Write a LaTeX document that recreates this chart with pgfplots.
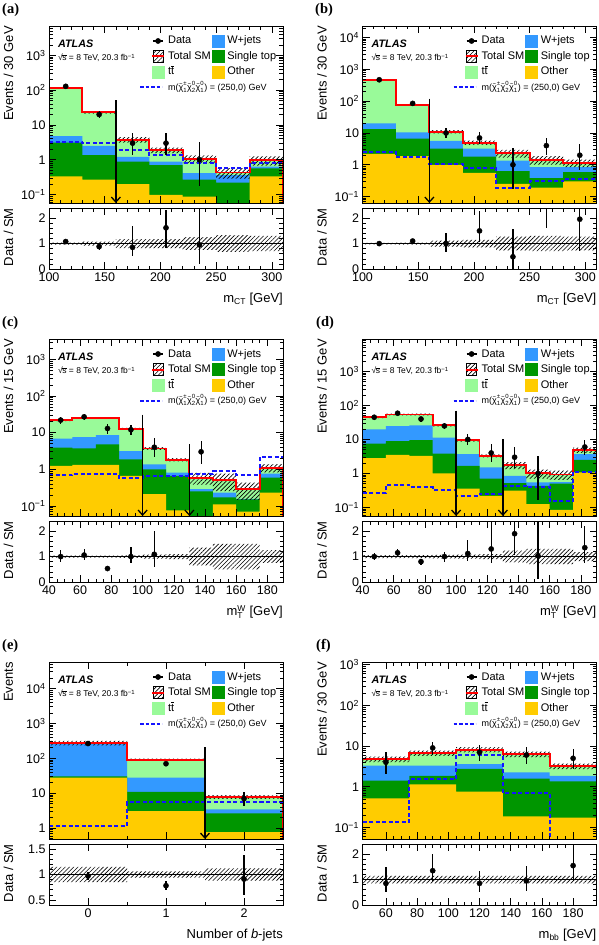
\documentclass[border=0pt]{standalone}
\usepackage{fontspec}
\setmainfont{Liberation Sans}
\newfontfamily\seriffont{Liberation Serif}
\usepackage{pgfplots}
\usepackage{pgfplotstable}
\pgfplotsset{compat=1.18}
\usetikzlibrary{patterns,patterns.meta,arrows.meta}

\definecolor{ttc}{RGB}{153,250,153}
\definecolor{wjc}{RGB}{51,153,255}
\definecolor{stc}{RGB}{0,150,0}
\definecolor{otc}{RGB}{255,204,0}
\definecolor{sgc}{RGB}{20,20,255}

\newcommand{\sx}[1]{\mbox{\fontsize{8.5}{9}\selectfont #1}}
\newcommand{\tx}[1]{\mbox{\fontsize{6}{6}\selectfont #1}}
\newcommand{\chit}{\tilde{\mbox{χ}}}
\newcommand{\sqrts}{√\kern-0.05em\vbox{\hrule height 0.45pt\kern0.6pt\hbox{s}}}
\tikzset{hatch/.style={pattern={Lines[angle=45,distance=3pt,line width=0.65pt]}, pattern color=black}}

% ---------------- data ----------------
\pgfplotstableread{
x oth st wj tot sg
100 1e-4 1e-4 1e-4 1e-4 3.3
100 0.33 3.1 4.8 118 3.3
130 0.27 1.36 2.5 23 2.95
160 0.20 0.88 1.2 3.8 1.9
190 0.098 0.70 0.88 1.9 1.36
220 0.087 0.27 0.41 1.07 0.82
250 1e-4 0.22 0.36 0.43 0.59
280 0.33 0.56 0.63 0.96 0.82
310 0.33 0.56 0.63 0.96 0.82
310 1e-4 1e-4 1e-4 1e-4 0.82
}\hA
\pgfplotstableread{
x y r
100 122.7 1.04
130 24.84 1.08
160 4.484 1.18
190 2.242 1.18
220 1.3375 1.25
250 0.572 1.33
280 1.248 1.30
310 1.248 1.30
310 0.672 0.70
280 0.288 0.67
250 0.8025 0.75
220 1.558 0.82
190 3.116 0.82
160 21.16 0.92
130 113.3 0.96
100 113.3 0.96
}\bA
\pgfplotstableread{
x y ep em
115 129 11.4 11.4
145 20 5.5 4.4
175 3 2.9 1.6
205 3 2.9 1.6
235 1 2.3 0.83
}\dA
\pgfplotstableread{
x r ep em
115 1.08 0.1 0.1
145 0.88 0.15 0.13
175 0.85 0.83 0.32
205 1.62 0.7 0.8
235 0.95 2.0 0.77
}\rA

\pgfplotstableread{
x oth st wj tot sg
100 1e-4 1e-4 1e-4 1e-4 2.6
100 2.2 13.3 20 475 2.6
130 1.87 6.6 10.5 75 1.8
160 1.0 3.2 5.6 11 1.07
190 0.56 1.8 3.2 5.0 0.82
220 0.25 0.63 1.36 2.3 0.19
250 0.19 0.38 0.85 1.45 0.30
280 0.30 0.59 0.85 1.15 0.36
310 0.30 0.59 0.85 1.15 0.36
310 1e-4 1e-4 1e-4 1e-4 0.36
}\hB
\pgfplotstableread{
x y r
100 489.25 1.03
130 78 1.04
160 12.32 1.12
190 5.75 1.15
220 2.921 1.27
250 1.885 1.30
280 1.4605 1.27
310 1.4605 1.27
310 0.8395 0.73
280 1.015 0.70
250 1.679 0.73
220 4.25 0.85
190 9.68 0.88
160 72 0.96
130 460.75 0.97
100 460.75 0.97
}\bB
\pgfplotstableread{
x y ep em
115 470 21.7 21.7
145 85 9.2 9.2
175 10 4.3 3.1
205 7 3.8 2.6
235 1 2.3 0.83
265 4 3.2 1.9
295 2 2.6 1.3
}\dB
\pgfplotstableread{
x r ep em
115 1.0 0.05 0.05
145 1.1 0.1 0.1
175 1.0 0.42 0.32
205 1.5 0.8 0.42
235 0.48 1.08 0.47
265 2.7 1.5 1.1
295 1.96 1.5 1.24
}\rB

\pgfplotstableread{
x oth st wj tot sg
40 1e-4 1e-4 1e-4 1e-4 0.70
40 1.23 3.9 6.9 21.6 0.70
55 1.31 3.7 7.6 25.6 0.73
70 1.31 4.8 8.6 25.6 0.73
85 0.66 1.87 3.15 12.9 0.57
100 0.21 1.0 1.37 3.7 0.66
115 0.076 0.66 0.81 1.84 0.66
130 0.03 0.25 0.285 0.59 0.76
145 0.11 0.17 0.23 0.51 0.9
160 0.07 0.15 0.155 0.29 0.69
175 0.23 0.59 0.76 1.1 2.16
190 0.23 0.59 0.76 1.1 2.16
190 1e-4 1e-4 1e-4 1e-4 2.16
}\hC
\pgfplotstableread{
x y r
40 22.46 1.04
55 26.62 1.04
70 26.62 1.04
85 13.545 1.05
100 3.996 1.08
115 2.024 1.1
130 0.7965 1.35
145 0.765 1.5
160 0.435 1.5
175 1.375 1.25
190 1.375 1.25
190 0.825 0.75
175 0.145 0.5
160 0.255 0.5
145 0.3835 0.65
130 1.656 0.9
115 3.404 0.92
100 12.255 0.95
85 24.58 0.96
70 24.58 0.96
55 20.74 0.96
40 20.74 0.96
}\bC
\pgfplotstableread{
x y ep em
47.5 22 4.7 4.7
62.5 27 5.2 5.2
77.5 13 4.4 3.6
92.5 12 4.3 3.4
107.5 4 3.2 1.9
137.5 3 2.9 1.6
}\dC
\pgfplotstableread{
x r ep em
47.5 1.0 0.25 0.2
62.5 1.06 0.23 0.19
77.5 0.53 0.08 0.08
92.5 1.0 0.37 0.27
107.5 1.09 0.9 0.5
}\rC

\pgfplotstableread{
x oth st wj tot sg
40 1e-4 1e-4 1e-4 1e-4 0.27
40 2.8 7.5 19.7 45 0.27
55 3.5 8.9 24.7 54 0.46
70 3.3 9.6 25.9 54 0.39
85 1.0 3.85 11.3 25.9 0.33
100 0.36 1.67 3.7 9.4 0.22
115 0.22 0.71 1.5 3.3 0.25
130 0.31 0.52 0.85 1.75 0.42
145 0.126 0.43 0.55 1.0 0.39
160 0.085 0.5 0.56 0.93 0.15
175 1.07 2.5 3.7 4.9 1.11
190 1.07 2.5 3.7 4.9 1.11
190 1e-4 1e-4 1e-4 1e-4 1.11
}\hD
\pgfplotstableread{
x y r
40 47.7 1.06
55 57.24 1.06
70 57.24 1.06
85 27.713 1.07
100 10.152 1.08
115 3.63 1.1
130 2.1525 1.23
145 1.3 1.3
160 1.209 1.3
175 5.782 1.18
190 5.782 1.18
190 4.018 0.82
175 0.651 0.7
160 0.7 0.7
145 1.3475 0.77
130 2.97 0.9
115 8.648 0.92
100 24.087 0.93
85 50.76 0.94
70 50.76 0.94
55 42.3 0.94
40 42.3 0.94
}\bD
\pgfplotstableread{
x y ep em
47.5 45 6.7 6.7
62.5 59 7.7 7.7
77.5 40 6.3 6.3
92.5 25 5 5
107.5 10 4.3 3.1
122.5 4 3.2 1.9
137.5 3 2.9 1.6
152.5 1 2.3 0.83
182.5 6 3.6 2.4
}\dD
\pgfplotstableread{
x r ep em
47.5 1.0 0.15 0.15
62.5 1.15 0.15 0.15
77.5 0.8 0.12 0.12
92.5 1.0 0.2 0.2
107.5 1.12 0.55 0.3
122.5 1.3 1.05 0.55
137.5 1.9 1.9 0.85
152.5 1.03 2.4 0.9
182.5 1.35 0.85 0.6
}\rD

\pgfplotstableread{
x oth st wj tot sg
-0.5 1e-4 1e-4 1e-4 1e-4 1.19
-0.5 28 30.5 255 275 1.19
0.5 3.1 11 28 92 5.5
1.5 0.77 2.67 3.46 7.9 5.6
2.5 0.77 2.67 3.46 7.9 5.6
2.5 1e-4 1e-4 1e-4 1e-4 5.6
}\hE
\pgfplotstableread{
x y r
-0.5 316.25 1.15
0.5 97.52 1.06
1.5 8.848 1.12
2.5 8.848 1.12
2.5 6.952 0.88
1.5 86.48 0.94
0.5 233.75 0.85
-0.5 233.75 0.85
}\bE
\pgfplotstableread{
x y ep em
0 265 16.3 16.3
1 70 8.4 8.4
2 7 3.8 2.6
}\dE
\pgfplotstableread{
x r ep em
0 0.97 0.07 0.07
1 0.78 0.1 0.09
2 0.91 0.48 0.31
}\rE

\pgfplotstableread{
x oth st wj tot sg
45 1e-4 1e-4 1e-4 1e-4 0.137
45 0.52 1.41 3.3 4.75 0.137
75 1.15 1.86 3.3 6.7 1.55
105 0.76 2.74 3.6 8.2 5.9
135 0.187 1.58 2.24 6.3 0.69
165 0.174 1.36 1.86 3.2 0.001
195 0.174 1.36 1.86 3.2 0.001
195 1e-4 1e-4 1e-4 1e-4 0.001
}\hF
\pgfplotstableread{
x y r
45 5.4625 1.15
75 7.705 1.15
105 9.43 1.15
135 7.245 1.15
165 3.68 1.15
195 3.68 1.15
195 2.72 0.85
165 5.355 0.85
135 6.97 0.85
105 5.695 0.85
75 4.0375 0.85
45 4.0375 0.85
}\bF
\pgfplotstableread{
x y ep em
60 4 3.2 1.9
90 9 3.9 2.9
120 7 3.8 2.6
150 6 3.6 2.4
180 5 3.4 2.2
}\dF
\pgfplotstableread{
x r ep em
60 0.85 0.65 0.35
90 1.35 0.65 0.4
120 0.85 0.48 0.32
150 0.95 0.6 0.38
180 1.55 1.1 0.6
}\rF

% ---------------- styles ----------------
\pgfplotsset{
  atlbase/.style={scale only axis, width=234pt,
    axis line style={line width=0.8pt},
    tick align=inside, xtick pos=both, ytick pos=both,
    xticklabel pos=lower, yticklabel pos=left,
    major tick length=7pt, minor tick length=3.5pt,
    every tick/.append style={black, line width=0.6pt},
    tick label style={font=\fontsize{12.5}{13}\selectfont},
    /pgf/number format/assume math mode=true,
    /pgf/number format/1000 sep={},
    axis on top,
    every axis y label/.style={at={(axis description cs:-0.173,1)}, anchor=east, rotate=90, inner sep=0pt, font=\fontsize{13}{14}\selectfont},
    every axis x label/.style={at={(axis description cs:1,0)}, anchor=east, yshift=-30pt, inner sep=0pt, font=\fontsize{13}{14}\selectfont}},
  atlmain/.style={atlbase, height=177pt, xticklabels={},
    minor ytick={0.02,0.03,0.04,0.05,0.06,0.07,0.08,0.09,0.2,0.3,0.4,0.5,0.6,0.7,0.8,0.9,2,3,4,5,6,7,8,9,20,30,40,50,60,70,80,90,200,300,400,500,600,700,800,900,2000,3000,4000,5000,6000,7000,8000,9000,20000,30000,40000,50000},
    legend style={at={(axis description cs:0.385,0.952)}, anchor=north west, draw=none, fill=none, inner sep=0pt, outer sep=0pt,
      font=\fontsize{11}{12}\selectfont, row sep=2.5pt,
      nodes={inner sep=1pt, text height=8.5pt, text depth=2.5pt},
      /tikz/every odd column/.style={column sep=2pt},
      /tikz/every even column/.style={column sep=0pt}},
    legend columns=2, legend cell align=left},
  atlratio/.style={atlbase, height=61pt, ylabel={Data / SM}, minor y tick num=4},
}

\newcommand{\legendent}{%
\addlegendimage{legend image code/.code={\draw[black,line width=1.2pt](1pt,0pt)--(11pt,0pt);\fill[black](6pt,0pt) circle (2.6pt);}}
\addlegendentry{Data}
\addlegendimage{legend image code/.code={\fill[wjc](0pt,-6pt) rectangle (12pt,6pt);}}
\addlegendentry{W+jets}
\addlegendimage{legend image code/.code={\fill[hatch](1pt,-6pt) rectangle (11pt,6pt);\draw[red,line width=2pt](0pt,0pt)--(12pt,0pt);}}
\addlegendentry{Total SM}
\addlegendimage{legend image code/.code={\fill[stc](0pt,-6pt) rectangle (12pt,6pt);}}
\addlegendentry{Single top}
\addlegendimage{legend image code/.code={\fill[ttc](0pt,-6pt) rectangle (12pt,6pt);}}
\addlegendentry{t\(\overline{\mbox{t}}\)}
\addlegendimage{legend image code/.code={\fill[otc](0pt,-6pt) rectangle (12pt,6pt);}}
\addlegendentry{Other}
\addlegendimage{legend image code/.code={\draw[draw=sgc,line width=2pt,dash pattern=on 3.5pt off 2pt](-12pt,0pt)--(10pt,0pt);}}
\addlegendentry{\makebox[0pt][l]{\fontsize{9}{10}\selectfont m(\(\chit^{\tx{±}}_{\tx{1}}\chit^{\tx{0}}_{\tx{2}}\chit^{\tx{0}}_{\tx{1}}\)) = (250,0) GeV}}
}

\newcommand{\atlas}{%
\node[anchor=west, inner sep=0pt, font=\bfseries\itshape\fontsize{10.8}{11}\selectfont] at (axis description cs:0.038,0.898) {ATLAS};
\node[anchor=west, inner sep=0pt, font=\fontsize{8.5}{9}\selectfont] at (axis description cs:0.038,0.819) {\sqrts{} = 8 TeV, 20.3 fb\textsuperscript{−1}};
}

\newcommand{\stackplots}[2]{%
\addplot[const plot, fill=ttc, draw=none, forget plot] table[x=x,y=tot]{#1};
\addplot[const plot, fill=wjc, draw=none, forget plot] table[x=x,y=wj]{#1};
\addplot[const plot, fill=stc, draw=none, forget plot] table[x=x,y=st]{#1};
\addplot[const plot, fill=otc, draw=none, forget plot] table[x=x,y=oth]{#1};
\addplot[const plot, hatch, draw=none, forget plot] table[x=x,y=y]{#2};
\addplot[const plot, red, line width=1.9pt, forget plot] table[x=x,y=tot]{#1};
\addplot[const plot, sgc, line width=2pt, dash pattern=on 4pt off 2.5pt, forget plot] table[x=x,y=sg]{#1};
}

\newcommand{\dataplot}[1]{%
\addplot[black, only marks, mark=*, mark size=2.6pt, forget plot,
  error bars/.cd, y dir=both, y explicit, error mark=none, error bar style={line width=1.2pt, black}]
  table[x=x,y=y,y error plus=ep,y error minus=em]{#1};
}
\newcommand{\ratioplot}[4]{%
\addplot[const plot, hatch, draw=none, forget plot] table[x=x,y=r]{#1};
\addplot[black, line width=1pt, forget plot] coordinates {(#3,1) (#4,1)};
\addplot[black, only marks, mark=*, mark size=2.6pt, forget plot,
  error bars/.cd, y dir=both, y explicit, error mark=none, error bar style={line width=1.2pt, black}]
  table[x=x,y=r,y error plus=ep,y error minus=em]{#2};
}
\tikzset{cutarrow/.style={black, line width=1.3pt, -{Straight Barb[length=5pt,width=9pt]}}}

\begin{document}
\begin{tikzpicture}
\path[use as bounding box] (0pt,0pt) rectangle (598pt,-945pt);
\tikzset{lab/.style={anchor=west, inner sep=0pt, font=\seriffont\bfseries\fontsize{14.5}{15}\selectfont}}
\node[lab] at (2pt,-10pt) {(a)};
\node[lab] at (315pt,-10pt) {(b)};
\node[lab] at (2pt,-323pt) {(c)};
\node[lab] at (316pt,-323pt) {(d)};
\node[lab] at (2pt,-646pt) {(e)};
\node[lab] at (316pt,-646pt) {(f)};

% ===== (a) =====
\begin{axis}[atlmain, ymode=log, at={(49pt,-26pt)}, anchor=north west,
  xmin=100, xmax=310, ymin=0.057, ymax=7000,
  xtick={100,150,...,300}, minor x tick num=4,
  ytick={0.1,1,10,100,1000}, yticklabels={10\textsuperscript{−1},1,10,10\textsuperscript{2},10\textsuperscript{3}},
  ylabel={Events / 30 GeV}]
\legendent
\stackplots{\hA}{\bA}
\dataplot{\dA}
\addplot[cutarrow, forget plot] coordinates {(160,51) (160,0.057)};
\atlas
\end{axis}
\begin{axis}[atlratio, at={(49pt,-208pt)}, anchor=north west,
  xmin=100, xmax=310, ymin=0, ymax=2.4,
  xtick={100,150,...,300}, minor x tick num=4, ytick={0,1,2},
  xlabel={m\(_{\sx{CT}}\) [GeV]}]
\ratioplot{\bA}{\rA}{100}{310}
\end{axis}

% ===== (b) =====
\begin{axis}[atlmain, ymode=log, at={(362.5pt,-26pt)}, anchor=north west,
  xmin=100, xmax=310, ymin=0.063, ymax=23000,
  xtick={100,150,...,300}, minor x tick num=4,
  ytick={0.1,1,10,100,1000,10000}, yticklabels={10\textsuperscript{−1},1,10,10\textsuperscript{2},10\textsuperscript{3},10\textsuperscript{4}},
  ylabel={Events / 30 GeV}]
\legendent
\stackplots{\hB}{\bB}
\dataplot{\dB}
\addplot[cutarrow, forget plot] coordinates {(160,120) (160,0.063)};
\atlas
\end{axis}
\begin{axis}[atlratio, at={(362.5pt,-208pt)}, anchor=north west,
  xmin=100, xmax=310, ymin=0, ymax=2.4,
  xtick={100,150,...,300}, minor x tick num=4, ytick={0,1,2},
  xlabel={m\(_{\sx{CT}}\) [GeV]}]
\ratioplot{\bB}{\rB}{100}{310}
\end{axis}

% ===== (c) =====
\begin{axis}[atlmain, ymode=log, at={(49pt,-339pt)}, anchor=north west,
  xmin=40, xmax=190, ymin=0.053, ymax=3600,
  xtick={40,60,...,180}, minor x tick num=3,
  ytick={0.1,1,10,100,1000}, yticklabels={10\textsuperscript{−1},1,10,10\textsuperscript{2},10\textsuperscript{3}},
  ylabel={Events / 15 GeV}]
\legendent
\stackplots{\hC}{\bC}
\dataplot{\dC}
\addplot[cutarrow, forget plot] coordinates {(100,31) (100,0.053)};
\addplot[cutarrow, forget plot] coordinates {(130,4.8) (130,0.053)};
\atlas
\end{axis}
\begin{axis}[atlratio, at={(49pt,-521pt)}, anchor=north west,
  xmin=40, xmax=190, ymin=0, ymax=2.4,
  xtick={40,60,...,180}, minor x tick num=3, ytick={0,1,2},
  xlabel={m\(^{\sx{W}}_{\sx{T}}\) [GeV]}]
\ratioplot{\bC}{\rC}{40}{190}
\end{axis}

% ===== (d) =====
\begin{axis}[atlmain, ymode=log, at={(362.5pt,-339pt)}, anchor=north west,
  xmin=40, xmax=190, ymin=0.056, ymax=9000,
  xtick={40,60,...,180}, minor x tick num=3,
  ytick={0.1,1,10,100,1000}, yticklabels={10\textsuperscript{−1},1,10,10\textsuperscript{2},10\textsuperscript{3}},
  ylabel={Events / 15 GeV}]
\legendent
\stackplots{\hD}{\bD}
\dataplot{\dD}
\addplot[cutarrow, forget plot] coordinates {(100,71) (100,0.056)};
\addplot[cutarrow, forget plot] coordinates {(130,10) (130,0.056)};
\atlas
\end{axis}
\begin{axis}[atlratio, at={(362.5pt,-521pt)}, anchor=north west,
  xmin=40, xmax=190, ymin=0, ymax=2.4,
  xtick={40,60,...,180}, minor x tick num=3, ytick={0,1,2},
  xlabel={m\(^{\sx{W}}_{\sx{T}}\) [GeV]}]
\ratioplot{\bD}{\rD}{40}{190}
\end{axis}

% ===== (e) =====
\begin{axis}[atlmain, ymode=log, at={(49pt,-662pt)}, anchor=north west,
  xmin=-0.5, xmax=2.5, ymin=0.49, ymax=57000,
  xtick={0,1,2}, minor x tick num=1,
  ytick={1,10,100,1000,10000}, yticklabels={1,10,10\textsuperscript{2},10\textsuperscript{3},10\textsuperscript{4}},
  ylabel={Events}]
\legendent
\stackplots{\hE}{\bE}
\dataplot{\dE}
\addplot[cutarrow, forget plot] coordinates {(1.5,210) (1.5,0.49)};
\atlas
\end{axis}
\begin{axis}[atlratio, at={(49pt,-844pt)}, anchor=north west,
  xmin=-0.5, xmax=2.5, ymin=0.4, ymax=1.6,
  xtick={0,1,2}, minor x tick num=1, ytick={0.5,1,1.5},
  xlabel={Number of \textit{b}-jets}]
\ratioplot{\bE}{\rE}{-0.5}{2.5}
\end{axis}

% ===== (f) =====
\begin{axis}[atlmain, ymode=log, at={(362.5pt,-662pt)}, anchor=north west,
  xmin=45, xmax=195, ymin=0.052, ymax=1160,
  xtick={60,80,...,180}, minor x tick num=3,
  ytick={0.1,1,10,100,1000}, yticklabels={10\textsuperscript{−1},1,10,10\textsuperscript{2},10\textsuperscript{3}},
  ylabel={Events / 30 GeV}]
\legendent
\stackplots{\hF}{\bF}
\dataplot{\dF}
\atlas
\end{axis}
\begin{axis}[atlratio, at={(362.5pt,-844pt)}, anchor=north west,
  xmin=45, xmax=195, ymin=0, ymax=2.4,
  xtick={60,80,...,180}, minor x tick num=3, ytick={0,1,2},
  xlabel={m\(_{\sx{bb}}\) [GeV]}]
\ratioplot{\bF}{\rF}{45}{195}
\end{axis}
\end{tikzpicture}
\end{document}
